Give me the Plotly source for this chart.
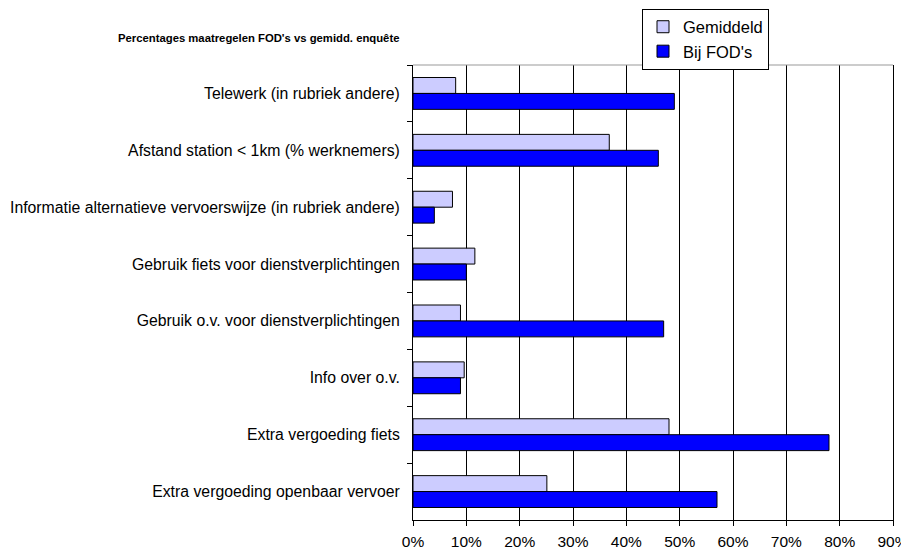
import plotly.graph_objects as go

categories = [
    "Telewerk (in rubriek andere)",
    "Afstand station < 1km (% werknemers)",
    "Informatie alternatieve vervoerswijze (in rubriek andere)",
    "Gebruik fiets voor dienstverplichtingen",
    "Gebruik o.v. voor dienstverplichtingen",
    "Info over o.v.",
    "Extra vergoeding fiets",
    "Extra vergoeding openbaar vervoer",
]
gemiddeld = [0.080, 0.368, 0.074, 0.116, 0.089, 0.096, 0.480, 0.251]
bij_fods = [0.490, 0.460, 0.040, 0.100, 0.470, 0.089, 0.780, 0.570]
x_ticks = [0, 0.1, 0.2, 0.3, 0.4, 0.5, 0.6, 0.7, 0.8, 0.9]

FONT = "Liberation Sans, Arial, sans-serif"

# The page body has an 8px margin, so the layout is shifted by -8px to compensate.
W, H = 909, 549
L, T, R, B = 405, 57, 24, 37
PH = H - T - B

fig = go.Figure()
fig.add_trace(go.Bar(
    y=categories, x=gemiddeld, orientation="h", name="Gemiddeld",
    marker=dict(color="#CCCCFF", line=dict(color="#000000", width=1)),
))
fig.add_trace(go.Bar(
    y=categories, x=bij_fods, orientation="h", name="Bij FOD's",
    marker=dict(color="#0000FF", line=dict(color="#000000", width=1)),
))

fig.update_layout(
    width=W, height=H,
    margin=dict(l=L, r=R, t=T, b=B, autoexpand=False),
    paper_bgcolor="white", plot_bgcolor="white",
    barmode="group", bargap=0.44, bargroupgap=0,
    font=dict(family=FONT, size=15.8, color="#000000"),
    title=dict(
        text="<b>Percentages maatregelen FOD's vs gemidd. enquête</b>",
        font=dict(family=FONT, size=11.3, color="#000000"),
        x=110 / W, xref="container", xanchor="left",
        y=1 - 30 / H, yref="container", yanchor="middle",
    ),
    legend=dict(
        x=(634 - L) / (W - L - R), y=(H - B - 0.5) / PH, xanchor="left", yanchor="top",
        bordercolor="#000000", borderwidth=1, bgcolor="white",
        font=dict(family=FONT, size=16.5, color="#000000"),
        traceorder="normal", tracegroupgap=0,
    ),
    showlegend=True,
)

fig.update_xaxes(
    range=[0, 0.9], tickvals=x_ticks, tickformat=".0%",
    showgrid=True, gridcolor="#000000", gridwidth=1,
    showline=True, linecolor="#000000", linewidth=1,
    ticks="outside", ticklen=5, tickcolor="#000000",
    zeroline=False, fixedrange=True, automargin=False,
    ticklabelstandoff=2,
    tickfont=dict(family=FONT, size=15.5, color="#000000"),
)
fig.update_yaxes(
    categoryorder="array", categoryarray=categories, autorange="reversed",
    showgrid=False, showline=True, linecolor="#000000", linewidth=1,
    mirror=True,
    ticks="outside", ticklen=5, tickcolor="#000000", tickson="boundaries",
    zeroline=False, fixedrange=True, automargin=False,
    ticklabelstandoff=9,
    tickfont=dict(family=FONT, size=15.8, color="#000000"),
)

fig.add_shape(type="line", xref="paper", yref="paper", x0=0, x1=1, y0=1, y1=1,
              line=dict(color="#999999", width=1))

fig.write_html("out.html")
